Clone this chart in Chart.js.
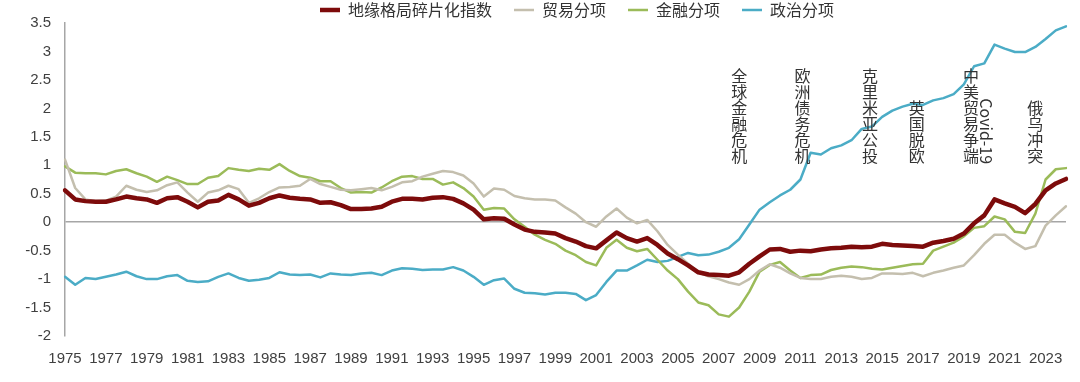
<!DOCTYPE html>
<html>
<head>
<meta charset="utf-8">
<script src="https://cdn.jsdelivr.net/npm/chart.js@4.4.0/dist/chart.umd.min.js"></script>
<style>
  html, body { margin: 0; padding: 0; background: #fff; }
</style>
</head>
<body>
<canvas id="myChart" width="1080" height="382"></canvas>
<script>
// half-year periods, 1975H1 .. 2024H1
const PERIODS = [];
for (let y = 1975; y <= 2024; y++) {
  PERIODS.push(y + "H1");
  if (y < 2024) PERIODS.push(y + "H2");
}

const SERIES_NAMES = ["地缘格局碎片化指数", "贸易分项", "金融分项", "政治分项"];

const INDEX_VALUES = [
  0.56, 0.40, 0.37, 0.36, 0.36, 0.40, 0.45, 0.42, 0.40, 0.34,
  0.42, 0.44, 0.36, 0.26, 0.36, 0.38, 0.48, 0.40, 0.29, 0.34,
  0.42, 0.47, 0.43, 0.41, 0.40, 0.34, 0.35, 0.30, 0.23, 0.23,
  0.24, 0.27, 0.36, 0.41, 0.41, 0.40, 0.43, 0.44, 0.41, 0.33,
  0.22, 0.05, 0.07, 0.06, -0.04, -0.13, -0.17, -0.18, -0.20, -0.28,
  -0.34, -0.42, -0.46, -0.32, -0.18, -0.28, -0.34, -0.28, -0.40, -0.55,
  -0.65, -0.76, -0.88, -0.92, -0.93, -0.94, -0.88, -0.73, -0.60, -0.48,
  -0.47, -0.52, -0.50, -0.51, -0.48, -0.46, -0.45, -0.43, -0.44, -0.43,
  -0.38, -0.40, -0.41, -0.42, -0.43, -0.36, -0.33, -0.29, -0.20, -0.02,
  0.12, 0.40, 0.33, 0.27, 0.16, 0.32, 0.56, 0.68, 0.76
];

const TRADE_VALUES = [
  1.10, 0.60, 0.40, 0.37, 0.38, 0.45, 0.64, 0.57, 0.53, 0.56,
  0.65, 0.70, 0.52, 0.36, 0.52, 0.56, 0.64, 0.58, 0.34, 0.42,
  0.53, 0.61, 0.62, 0.64, 0.76, 0.67, 0.62, 0.57, 0.56, 0.58,
  0.60, 0.56, 0.62, 0.70, 0.72, 0.80, 0.85, 0.90, 0.88, 0.82,
  0.68, 0.45, 0.59, 0.57, 0.46, 0.42, 0.40, 0.40, 0.38, 0.26,
  0.15, 0.00, -0.08, 0.10, 0.24, 0.08, -0.02, 0.04, -0.16, -0.40,
  -0.57, -0.73, -0.88, -0.95, -1.00, -1.06, -1.10, -1.00, -0.85, -0.74,
  -0.80, -0.90, -0.98, -1.00, -1.00, -0.96, -0.94, -0.96, -1.00, -0.98,
  -0.90, -0.90, -0.91, -0.89, -0.95, -0.89, -0.85, -0.80, -0.76, -0.58,
  -0.38, -0.22, -0.22, -0.36, -0.47, -0.42, -0.06, 0.12, 0.28
];

const FINANCE_VALUES = [
  0.98, 0.87, 0.86, 0.86, 0.84, 0.90, 0.93, 0.86, 0.80, 0.71,
  0.80, 0.74, 0.67, 0.67, 0.78, 0.81, 0.95, 0.92, 0.90, 0.94,
  0.92, 1.02, 0.90, 0.81, 0.78, 0.72, 0.72, 0.60, 0.52, 0.53,
  0.52, 0.61, 0.72, 0.80, 0.81, 0.76, 0.76, 0.66, 0.70, 0.60,
  0.45, 0.22, 0.25, 0.24, 0.05, -0.08, -0.22, -0.31, -0.38, -0.50,
  -0.58, -0.70, -0.76, -0.45, -0.31, -0.45, -0.51, -0.47, -0.66, -0.85,
  -1.00, -1.22, -1.41, -1.46, -1.62, -1.66, -1.50, -1.22, -0.87, -0.75,
  -0.70, -0.85, -0.98, -0.93, -0.92, -0.84, -0.80, -0.78, -0.79, -0.82,
  -0.83, -0.80, -0.77, -0.74, -0.73, -0.50, -0.43, -0.36, -0.25, -0.10,
  -0.07, 0.10, 0.05, -0.17, -0.19, 0.15, 0.75, 0.93, 0.95
];

const POLITICS_VALUES = [
  -0.96, -1.10, -0.98, -1.00, -0.96, -0.92, -0.87, -0.95, -1.00, -1.00,
  -0.95, -0.93, -1.03, -1.05, -1.04, -0.96, -0.90, -0.98, -1.03, -1.01,
  -0.98, -0.88, -0.92, -0.93, -0.92, -0.97, -0.90, -0.92, -0.93, -0.90,
  -0.89, -0.93, -0.85, -0.81, -0.82, -0.84, -0.83, -0.83, -0.79, -0.85,
  -0.96, -1.10, -1.02, -0.99, -1.17, -1.24, -1.25, -1.27, -1.24, -1.24,
  -1.26, -1.37, -1.28, -1.05, -0.85, -0.85, -0.76, -0.66, -0.70, -0.68,
  -0.61, -0.54, -0.58, -0.57, -0.52, -0.45, -0.30, -0.04, 0.22, 0.35,
  0.47, 0.57, 0.75, 1.22, 1.19, 1.30, 1.35, 1.44, 1.64, 1.68,
  1.85, 1.96, 2.03, 2.08, 2.06, 2.14, 2.18, 2.25, 2.42, 2.74,
  2.79, 3.12, 3.05, 2.99, 2.99, 3.08, 3.22, 3.37, 3.44
];

// event labels: text, year position, drawn rotated or stacked
const EVENT_NAMES = ["全球金融危机", "欧洲债务危机", "克里米亚公投", "英国脱欧", "中美贸易争端", "Covid-19", "俄乌冲突"];
const EVENT_YEARS = [2008.0, 2011.1, 2014.4, 2016.7, 2019.35, 2020.1, 2022.5];
const EVENT_ROTATED = [false, false, false, false, false, true, false];
const EVENT_BOTTOM = 1.02;

const COLORS = ["#7d0b0b", "#c4bfae", "#9bbb59", "#4bacc6"];
const WIDTHS = [4.5, 2.5, 2.5, 2.5];
const CJK = '"Noto Sans CJK SC", "Noto Sans", sans-serif';

const legendShift = {
  id: "legendShift",
  afterLayout(chart) {
    const lg = chart.legend;
    lg.left = 37;
    lg.right = 1117;
    lg.top = -20;
    lg.bottom = 30;
  },
};

const eventLabels = {
  id: "eventLabels",
  afterDatasetsDraw(chart) {
    const { ctx, scales: { x, y } } = chart;
    const bottom = y.getPixelForValue(EVENT_BOTTOM);
    ctx.save();
    ctx.fillStyle = "#333";
    ctx.font = "16px " + CJK;
    ctx.textBaseline = "middle";
    EVENT_NAMES.forEach((name, k) => {
      const px = x.getPixelForValue((EVENT_YEARS[k] - 1975) * 2);
      if (EVENT_ROTATED[k]) {
        ctx.save();
        ctx.translate(px, bottom);
        ctx.rotate(Math.PI / 2);
        ctx.textAlign = "right";
        ctx.fillText(name, 0, 0);
        ctx.restore();
      } else {
        const chars = [...name];
        ctx.textAlign = "center";
        chars.forEach((c, j) => {
          ctx.fillText(c, px, bottom - (chars.length - j - 0.5) * 16);
        });
      }
    });
    ctx.restore();
  },
};

const allValues = [INDEX_VALUES, TRADE_VALUES, FINANCE_VALUES, POLITICS_VALUES];

var ctx = document.getElementById("myChart").getContext("2d");
var myChart = new Chart(ctx, {
  type: "line",
  data: {
    labels: PERIODS,
    datasets: SERIES_NAMES.map((name, i) => ({
      label: name,
      data: allValues[i],
      borderColor: COLORS[i],
      backgroundColor: COLORS[i],
      borderWidth: WIDTHS[i],
      borderCapStyle: "round",
      borderJoinStyle: "round",
      pointRadius: 0,
      tension: 0,
      fill: false,
    })),
  },
  options: {
    responsive: false,
    devicePixelRatio: 1,
    animation: false,
    layout: { padding: { left: 0, right: 13, top: 0, bottom: 0 } },
    plugins: {
      tooltip: { enabled: false },
      legend: {
        position: "top",
        maxHeight: 17,
        labels: {
          usePointStyle: true,
          pointStyle: "line",
          pointStyleWidth: 20,
          padding: 22,
          color: "#333",
          font: { family: CJK, size: 16 },
        },
      },
    },
    scales: {
      x: {
        grid: { display: false, drawTicks: false },
        border: { display: false },
        ticks: {
          autoSkip: false,
          maxRotation: 0,
          padding: 14,
          color: "#404040",
          font: { family: "Liberation Sans", size: 15 },
          callback: (value, i) => (i % 4 === 0 ? PERIODS[i].slice(0, 4) : ""),
        },
      },
      y: {
        min: -2,
        max: 3.5,
        afterFit: (scale) => { scale.width = 65; },
        border: { display: true, color: "#a6a6a6", width: 1.5 },
        grid: {
          drawTicks: false,
          color: (c) => (c.tick && c.tick.value === 0 ? "#a6a6a6" : "rgba(0,0,0,0)"),
          lineWidth: 1.5,
        },
        ticks: {
          stepSize: 0.5,
          padding: 14,
          color: "#404040",
          font: { family: "Liberation Sans", size: 15 },
          callback: (value) => String(+value.toFixed(1)),
        },
      },
    },
  },
  plugins: [legendShift, eventLabels],
});
</script>
</body>
</html>
